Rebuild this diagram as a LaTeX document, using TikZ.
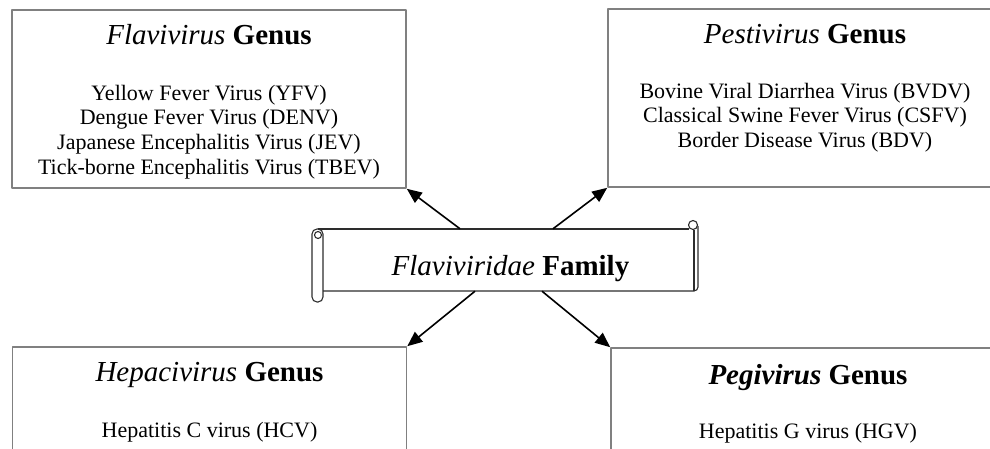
\documentclass[tikz,border=0pt]{standalone}
\usepackage{fontspec}
\setmainfont{Liberation Serif}
\usetikzlibrary{arrows.meta,calc}
\definecolor{boxgray}{RGB}{128,128,128}
\definecolor{scrollink}{RGB}{45,45,45}
\tikzset{
  genusbox/.style={draw=boxgray,line width=1.6pt,minimum width=394pt,minimum height=178pt,inner sep=0pt},
  genustitle/.style={font=\fontsize{29}{32}\selectfont,anchor=base,inner sep=0pt},
  viruslist/.style={font=\fontsize{22}{24.7}\selectfont,align=center,anchor=base,inner sep=0pt},
  scrollline/.style={line width=1.1pt,scrollink},
  spread/.style={line width=1.6pt,-{Triangle[length=15pt,width=12.5pt]}}
}

\begin{document}
\begin{tikzpicture}[x=1pt,y=-1pt,line join=round]
\clip (0,0) rectangle (990,448);
% the four genus boxes (lists sit on the baseline of their last line)
\node[genusbox] (flavi) at (209,99) {};
\node[genusbox] (pesti) at (805,98) {};
\node[genusbox] (hepaci) at (209.5,436) {};
\node[genusbox] (pegi) at (808,437) {};
\node[genustitle] (flavitit) at ($(flavi.north)+(0,35)$) {\textit{Flavivirus} \textbf{Genus}};
\node[viruslist] (flavilist) at ($(flavi.north)+(0,165)$) {Yellow Fever Virus (YFV)\\Dengue Fever Virus (DENV)\\Japanese Encephalitis Virus (JEV)\\Tick-borne Encephalitis Virus (TBEV)};
\node[genustitle] (pestitit) at ($(pesti.north)+(0,35)$) {\textit{Pestivirus} \textbf{Genus}};
\node[viruslist] (pestilist) at ($(pesti.north)+(0,139.4)$) {Bovine Viral Diarrhea Virus (BVDV)\\Classical Swine Fever Virus (CSFV)\\Border Disease Virus (BDV)};
\node[genustitle] (hepacitit) at ($(hepaci.north)+(0,35)$) {\textit{Hepacivirus} \textbf{Genus}};
\node[viruslist] (hepacilist) at ($(hepaci.north)+(0,91)$) {Hepatitis C virus (HCV)};
\node[genustitle] (pegitit) at ($(pegi.north)+(0,37)$) {\textbf{\textit{Pegivirus} Genus}};
\node[viruslist] (pegilist) at ($(pegi.north)+(0,91)$) {Hepatitis G virus (HGV)};
% the family scroll
\node[minimum width=375pt,minimum height=62pt,inner sep=0pt,text height=30pt,text depth=0pt,font=\fontsize{29}{32}\selectfont] (family) at (510.5,260) {\textit{Flaviviridae} \textbf{Family}};
\draw[scrollline] (318,229) -- (689,229);
\draw[scrollline,rounded corners=4pt] (323,291) -- (698,291) -- (698,226);
\draw[scrollline] (694,229.5) -- (694,291);
\draw[scrollline] (693,225) circle[radius=4.5];
\draw[scrollline,rounded corners=5pt] (312,229) rectangle (323,302);
\draw[scrollline] (318,235) circle[radius=3.5];
% arrows out to the genera
\draw[spread] ($(family.north)+(-50.5,0)$) -- (flavi.south east);
\draw[spread] ($(family.north)+(42.5,0)$) -- (pesti.south west);
\draw[spread] ($(family.south)+(-35.5,0)$) -- (hepaci.north east);
\draw[spread] ($(family.south)+(31.5,0)$) -- (pegi.north west);
\end{tikzpicture}
\end{document}
